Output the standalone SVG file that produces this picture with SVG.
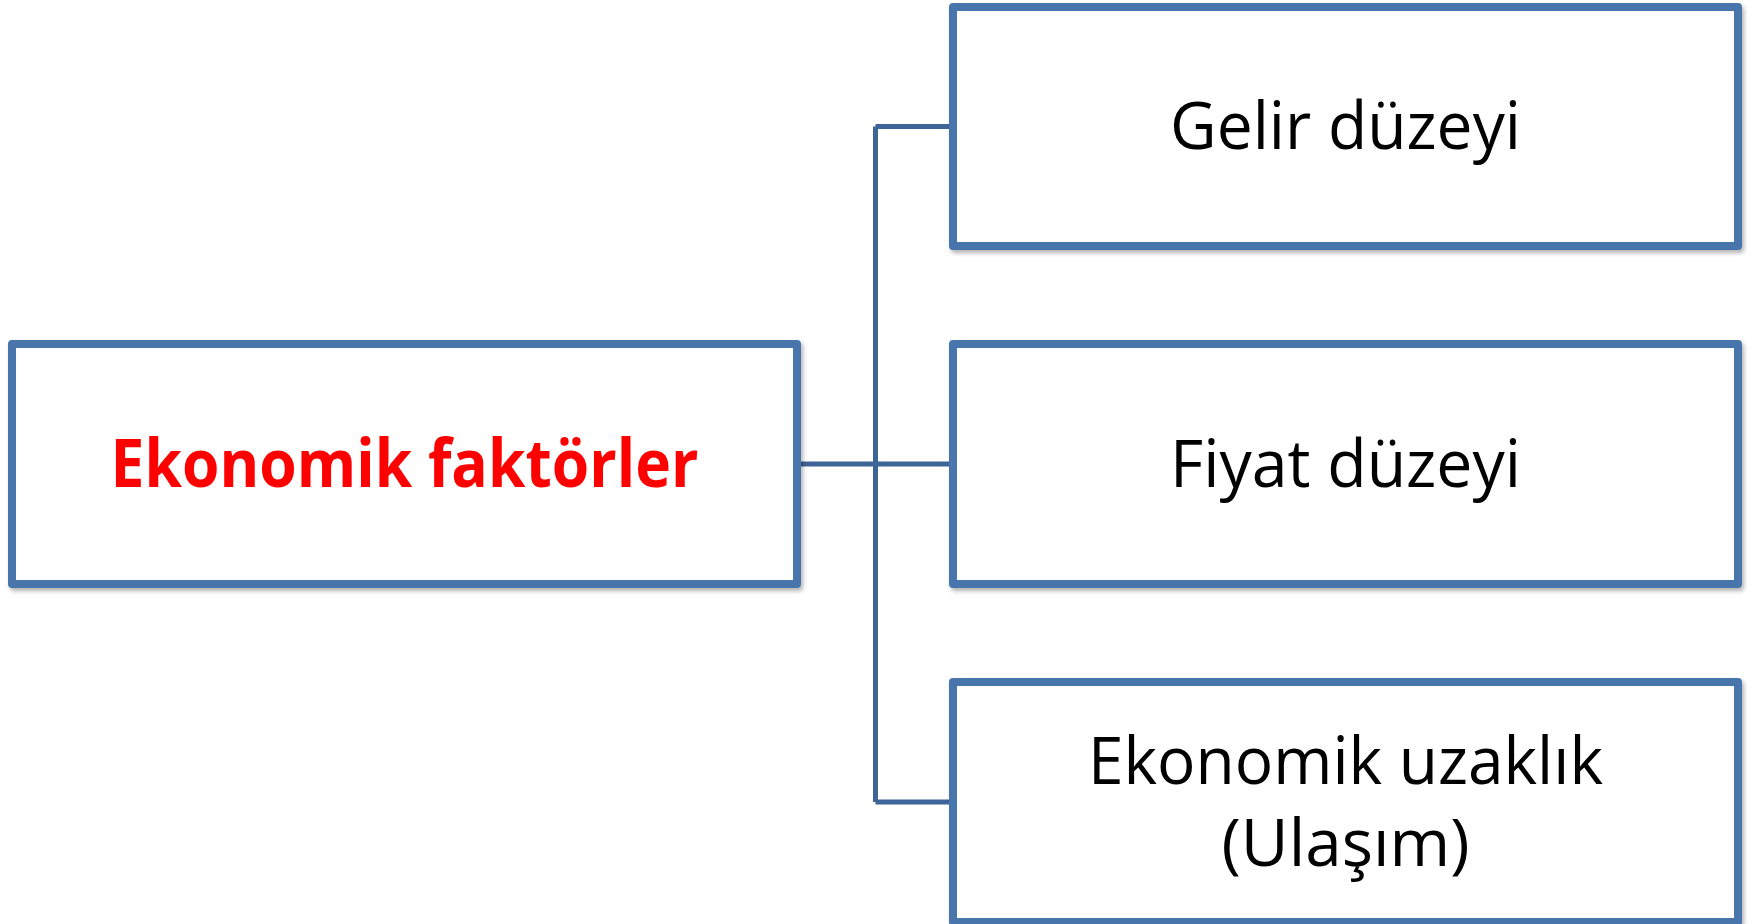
<svg xmlns="http://www.w3.org/2000/svg" width="1756" height="924" viewBox="0 0 1756 924">
<defs>
<filter id="sh" x="-5%" y="-5%" width="110%" height="115%">
<feDropShadow dx="2" dy="3" stdDeviation="2" flood-color="#000" flood-opacity="0.3"/>
</filter>
<style>
.box{fill:#fff;stroke:#4A75AD;stroke-width:8;stroke-linejoin:round;filter:url(#sh)}
.con{fill:none;stroke:#3E6597;stroke-width:5}
.t{font-family:"Open Sans","Liberation Sans",sans-serif;font-size:66px;fill:#000;text-anchor:middle}
.tb{font-family:"Open Sans","Liberation Sans",sans-serif;font-size:66px;font-weight:bold;fill:#FF0000;text-anchor:middle}
</style>
</defs>
<g id="connectors">
<path class="con" d="M797 464 H953 M875.5 126.5 V802 M875.5 126.5 H953 M875.5 802 H953"/>
</g>
<g id="n-ekonomik-faktorler">
<rect class="box" x="12" y="344" width="785" height="240"/>
<text class="tb" x="404.5" y="487" textLength="588" lengthAdjust="spacingAndGlyphs">Ekonomik faktörler</text>
</g>
<g id="n-gelir">
<rect class="box" x="953" y="7" width="785" height="239"/>
<text class="t" x="1345.5" y="149" textLength="351" lengthAdjust="spacingAndGlyphs">Gelir düzeyi</text>
</g>
<g id="n-fiyat">
<rect class="box" x="953" y="344" width="785" height="240"/>
<text class="t" x="1345.5" y="487" textLength="351" lengthAdjust="spacingAndGlyphs">Fiyat düzeyi</text>
</g>
<g id="n-uzaklik">
<rect class="box" x="953" y="682" width="785" height="240"/>
<text class="t" x="1345.5" y="784" textLength="515" lengthAdjust="spacingAndGlyphs">Ekonomik uzaklık</text>
<text class="t" x="1345.5" y="866" textLength="248" lengthAdjust="spacingAndGlyphs">(Ulaşım)</text>
</g>
</svg>
